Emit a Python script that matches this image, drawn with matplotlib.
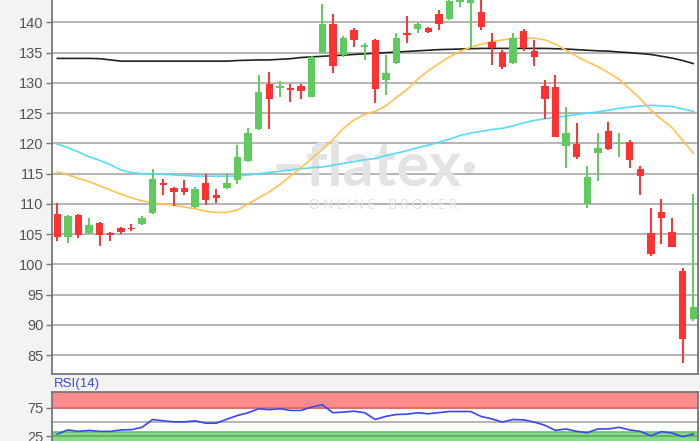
import matplotlib
matplotlib.use("Agg")
import matplotlib.pyplot as plt
import numpy as np

# Kerzen (open, high, low, close), von links nach rechts
opens = [108.4, 104.6, 108.2, 105.2, 106.9, 105.2, 106.0, 106.0, 106.7, 108.5,
         113.4, 112.7, 112.7, 109.5, 113.5, 111.5, 112.6, 114.0, 117.1, 122.4,
         129.9, 129.1, 129.1, 129.5, 127.7, 135.0, 139.7, 134.6, 138.8, 136.0,
         137.1, 130.5, 133.3, 138.2, 138.9, 139.0, 141.4, 140.5, 143.4, 143.2,
         141.75, 136.8, 135.1, 133.3, 138.6, 135.3, 129.5, 129.4, 119.6, 119.9,
         110.0, 118.4, 122.0, 119.9, 120.2, 115.7, 105.2, 108.6, 105.4, 99.0, 91.0]
highs = [110.1, 108.2, 108.3, 107.7, 107.0, 105.3, 106.2, 106.7, 108.0, 115.7,
         114.1, 112.8, 114.0, 112.8, 115.0, 112.5, 115.0, 119.8, 122.5, 131.3,
         131.8, 130.3, 129.9, 129.9, 134.4, 143.1, 141.4, 137.8, 139.1, 136.6,
         137.2, 134.6, 138.2, 141.0, 139.9, 139.3, 142.0, 144.5, 145.0, 146.0,
         144.0, 138.2, 135.5, 138.3, 138.9, 137.1, 130.5, 131.3, 126.0, 123.4,
         116.2, 121.8, 123.6, 121.8, 120.5, 116.3, 109.3, 110.8, 107.6, 99.4, 111.6]
lows = [103.9, 103.5, 104.3, 105.0, 103.1, 103.9, 105.1, 105.5, 106.5, 108.4,
        111.5, 109.7, 111.5, 109.4, 109.8, 110.1, 112.4, 113.3, 117.0, 122.3,
        122.4, 127.7, 126.9, 127.3, 127.6, 135.0, 131.6, 134.3, 135.9, 133.8,
        126.7, 128.0, 133.2, 136.6, 138.2, 138.3, 138.8, 140.4, 142.6, 135.8,
        138.7, 133.0, 132.3, 133.2, 135.2, 132.8, 124.0, 121.0, 115.9, 117.4,
        109.3, 113.8, 118.9, 117.7, 115.9, 111.5, 101.4, 103.3, 102.9, 83.8, 90.6]
closes = [104.6, 108.0, 104.9, 106.6, 104.9, 104.9, 105.4, 105.8, 107.7, 114.1,
          113.1, 111.9, 111.9, 112.5, 110.7, 110.9, 113.4, 117.8, 121.8, 128.5,
          127.3, 129.5, 128.9, 128.6, 134.3, 139.7, 132.8, 137.5, 137.1, 136.3,
          129.0, 131.7, 137.5, 137.9, 139.7, 138.4, 139.7, 143.5, 143.8, 144.5,
          139.2, 135.8, 132.7, 137.5, 135.8, 134.2, 127.3, 121.1, 121.8, 117.8,
          114.4, 119.3, 119.1, 120.0, 117.3, 114.6, 101.7, 107.6, 102.9, 87.7, 93.0]

# gleitende Durchschnitte
ma_orange = [115.3, 114.8, 114.2, 113.7, 113.0, 112.3, 111.6, 111.0, 110.5, 110.2,
             110.0, 109.8, 109.5, 109.2, 108.8, 108.6, 108.6, 109.0, 110.0, 111.0,
             112.0, 113.2, 114.6, 116.0, 117.5, 119.0, 120.6, 122.5, 123.9, 124.8,
             125.3, 126.2, 127.6, 128.9, 130.6, 132.0, 133.2, 134.3, 135.2, 135.9,
             136.4, 136.8, 137.1, 137.35, 137.4, 137.4, 137.1, 136.4, 135.4, 134.4,
             133.5, 132.7, 131.7, 130.6, 129.0, 127.4, 125.5, 124.0, 122.6, 120.5, 118.4]
ma_cyan = [119.9, 119.3, 118.6, 117.8, 117.2, 116.5, 115.6, 115.2, 115.0, 115.0,
           114.9, 114.8, 114.7, 114.6, 114.6, 114.6, 114.6, 114.6, 114.8, 115.0,
           115.2, 115.4, 115.6, 115.8, 116.0, 116.1, 116.4, 116.7, 117.0, 117.3,
           117.5, 118.0, 118.4, 118.8, 119.3, 119.7, 120.2, 120.7, 121.3, 121.7,
           122.0, 122.3, 122.5, 122.9, 123.4, 123.8, 124.1, 124.3, 124.5, 124.8,
           125.0, 125.2, 125.5, 125.8, 126.0, 126.2, 126.3, 126.2, 126.1, 125.7, 125.3]
ma_black = [134.05, 134.05, 134.05, 134.05, 134.0, 133.8, 133.6, 133.6, 133.6, 133.6,
            133.6, 133.6, 133.6, 133.6, 133.6, 133.6, 133.6, 133.7, 133.75, 133.8,
            133.8, 133.9, 134.0, 134.2, 134.3, 134.4, 134.5, 134.6, 134.7, 134.8,
            134.9, 135.0, 135.1, 135.2, 135.3, 135.4, 135.5, 135.55, 135.6, 135.65,
            135.7, 135.7, 135.7, 135.7, 135.7, 135.7, 135.7, 135.65, 135.6, 135.5,
            135.4, 135.3, 135.25, 135.1, 135.0, 134.85, 134.7, 134.4, 134.1, 133.7, 133.2]

rsi = [29.2, 36.3, 33.8, 35.5, 33.8, 33.8, 36.3, 36.8, 40.9, 54.5,
       52.2, 50.4, 50.4, 52.2, 48.1, 48.1, 55.0, 61.5, 66.3, 73.3,
       71.6, 73.3, 70.4, 70.4, 76.2, 80.3, 66.3, 67.5, 69.0, 66.3,
       54.5, 60.0, 63.3, 63.8, 66.3, 64.5, 66.5, 68.5, 68.5, 68.5,
       59.7, 55.6, 50.0, 54.5, 53.9, 50.0, 44.5, 35.5, 38.0, 33.8,
       31.5, 38.0, 38.0, 40.9, 36.3, 33.8, 26.2, 33.3, 31.0, 24.5, 29.2]

price_ticks = [85, 90, 95, 100, 105, 110, 115, 120, 125, 130, 135, 140]
rsi_ticks = [25, 75]

up_col = '#5fcb5f'
down_col = '#ff3131'
grid_col = '#b4b4b4'
text_col = '#555555'

plt.rcParams['font.family'] = ['Liberation Sans', 'DejaVu Sans']

fig = plt.figure(figsize=(7.0, 4.41), dpi=100, facecolor='#f3f3f3')
ax = fig.add_axes([52 / 700, 1 - 374 / 441, 646 / 700, 374 / 441])
ax2 = fig.add_axes([52 / 700, 0, 646 / 700, 49 / 441])
ax.set_facecolor('white')
ax2.set_facecolor('white')

x = np.arange(len(opens))
o = np.array(opens)
c = np.array(closes)
cols = [up_col if cc >= oo else down_col for oo, cc in zip(o, c)]

for t in price_ticks:
    ax.axhline(t, color=grid_col, lw=1.4, zorder=1)

# Wasserzeichen
ax.text(0.535, 0.62, '\u2013flatex\u00b7', fontsize=44, family='Lato', weight='bold',
        color='#e3e3e3', ha='center', va='center', zorder=1.5,
        transform=fig.transFigure)
ax.text(0.548, 0.535, 'O N L I N E    B R O K E R', fontsize=9.5, family='Lato',
        color='#e3e3e3', ha='center', va='center', zorder=1.5,
        transform=fig.transFigure)

ax.plot(x, ma_black, color='#222222', lw=1.2, zorder=2)
ax.plot(x, ma_cyan, color='#55dcf7', lw=1.2, zorder=2)
ax.plot(x, ma_orange, color='#ffc24f', lw=1.2, zorder=2)

ax.vlines(x, lows, highs, colors=cols, lw=1.4, zorder=3)
body_h = np.maximum(np.abs(c - o), 0.25)
ax.bar(x, body_h, bottom=np.minimum(o, c), width=0.7, color=cols, zorder=4)

ax.set_xlim(-0.5, 60.45)
ax.set_ylim(81.9, 143.7)
ax.set_yticks(price_ticks)
ax.set_xticks([])
ax.tick_params(axis='y', length=4, width=1, color='#777777', labelsize=10.5,
               labelcolor=text_col, pad=2)
ax.spines['top'].set_visible(False)
for s in ['left', 'bottom', 'right']:
    ax.spines[s].set_color('#777777')
    ax.spines[s].set_linewidth(1.3)

# RSI-Panel
ax2.axhspan(75, 102.5, color='#ff8c8c', zorder=1, lw=0)
ax2.axhspan(0, 33, color='#8ad88a', zorder=1, lw=0)
ax2.axhline(75, color='#e06a6a', lw=1.4, zorder=2)
ax2.axhline(33, color='#6cc06c', lw=1.2, zorder=2)
ax2.axhline(25, color='#5fb45f', lw=1.4, zorder=2)
ax2.axhline(50, color=grid_col, lw=1.4, zorder=2)
ax2.plot(x, rsi, color='#3a46f0', lw=1.2, zorder=3)
ax2.set_xlim(-0.5, 60.45)
ax2.set_ylim(17, 102.5)
ax2.set_yticks(rsi_ticks)
ax2.set_xticks([])
ax2.tick_params(axis='y', length=4, width=1, color='#777777', labelsize=10.5,
                labelcolor=text_col, pad=2)
ax2.spines['bottom'].set_visible(False)
for s in ['left', 'top', 'right']:
    ax2.spines[s].set_color('#777777')
    ax2.spines[s].set_linewidth(1.3)

fig.text(54 / 700, 1 - 384 / 441, 'RSI(14)', fontsize=9.5, color='#3a46f0',
         ha='left', va='center')

fig.savefig('out.png', dpi=100, facecolor=fig.get_facecolor())
